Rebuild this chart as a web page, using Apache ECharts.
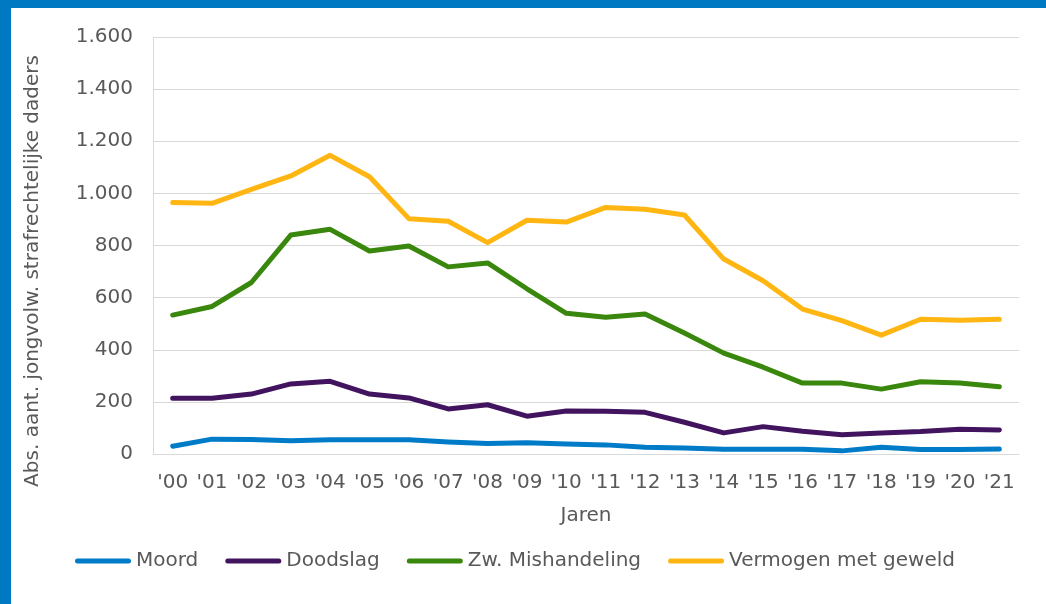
<!DOCTYPE html>
<html>
<head>
<meta charset="utf-8">
<style>
  html, body { margin: 0; padding: 0; background: #fff; }
  #chart { width: 1046px; height: 604px; }
</style>
<script src="https://cdn.jsdelivr.net/npm/echarts@6/dist/echarts.min.js"></script>
</head>
<body>
<div id="chart"></div>
<script>
var jaren = ["'00", "'01", "'02", "'03", "'04", "'05", "'06", "'07", "'08", "'09", "'10",
  "'11", "'12", "'13", "'14", "'15", "'16", "'17", "'18", "'19", "'20", "'21"]

var moord = [30, 57, 56, 51, 55, 55, 55, 46, 40, 43, 38, 35, 26, 23, 18, 18, 18, 12, 26, 17, 17, 19]
var doodslag = [214, 214, 230, 269, 279, 230, 215, 173, 189, 145, 165, 164, 160, 122, 81, 105, 87, 74, 81, 86, 95, 92]
var mishandeling = [533, 566, 658, 840, 862, 779, 798, 718, 733, 634, 540, 525, 537, 464, 387, 333, 272, 272, 249, 277, 272, 258]
var vermogen = [965, 962, 1015, 1067, 1146, 1064, 903, 893, 811, 897, 890, 946, 939, 917, 748, 665, 556, 512, 456, 517, 513, 517]

var chart = echarts.init(document.getElementById('chart'))
var font = 'DejaVu Sans'
var grijs = '#595959'
var fs = 20

function lijn (name, data, color) {
  return {
    name: name,
    type: 'line',
    data: data,
    symbol: 'none',
    smooth: false,
    lineStyle: { width: 5, color: color, cap: 'round', join: 'round' },
    itemStyle: { color: color }
  }
}

chart.setOption({
  animation: false,
  textStyle: { fontFamily: font },
  graphic: [
    { type: 'rect', shape: { x: 0, y: 0, width: 1046, height: 8 }, style: { fill: '#0079C2' } },
    { type: 'rect', shape: { x: 0, y: 0, width: 11, height: 604 }, style: { fill: '#0079C2' } },
    {
      type: 'text',
      x: 33,
      y: 271,
      rotation: Math.PI / 2,
      style: {
        text: 'Abs. aant. jongvolw. strafrechtelijke daders',
        fontFamily: font,
        fontSize: fs,
        fill: grijs,
        align: 'center',
        verticalAlign: 'middle'
      }
    }
  ],
  grid: { left: 153, right: 27, top: 37, bottom: 150 },
  legend: {
    left: 70,
    top: 546,
    itemWidth: 56,
    itemHeight: 5,
    itemGap: 27,
    icon: 'path://M2.5,0 H53.5 A2.5,2.5 0 0 1 53.5,5 H2.5 A2.5,2.5 0 0 1 2.5,0 Z',
    textStyle: { fontSize: fs, color: grijs, fontFamily: font },
    data: ['Moord', 'Doodslag', 'Zw. Mishandeling', 'Vermogen met geweld']
  },
  xAxis: {
    type: 'category',
    data: jaren,
    boundaryGap: true,
    name: 'Jaren',
    nameLocation: 'middle',
    nameGap: 52,
    nameTextStyle: { fontSize: fs, color: grijs, fontFamily: font },
    axisLine: { lineStyle: { color: '#D9D9D9', width: 1 } },
    axisTick: { show: false },
    axisLabel: { interval: 0, fontSize: fs, color: grijs, margin: 19, fontFamily: font }
  },
  yAxis: {
    type: 'value',
    min: 0,
    max: 1600,
    interval: 200,
    axisLine: { show: true, lineStyle: { color: '#D9D9D9', width: 1 } },
    axisTick: { show: false },
    splitLine: { lineStyle: { color: '#D9D9D9', width: 1 } },
    axisLabel: {
      fontSize: fs,
      color: grijs,
      margin: 20,
      fontFamily: font,
      formatter: function (v) {
        return String(v).replace(/\B(?=(\d{3})+(?!\d))/g, '.')
      }
    }
  },
  series: [
    lijn('Moord', moord, '#007BC7'),
    lijn('Doodslag', doodslag, '#42145F'),
    lijn('Zw. Mishandeling', mishandeling, '#39870C'),
    lijn('Vermogen met geweld', vermogen, '#FFB612')
  ]
})
</script>
</body>
</html>
